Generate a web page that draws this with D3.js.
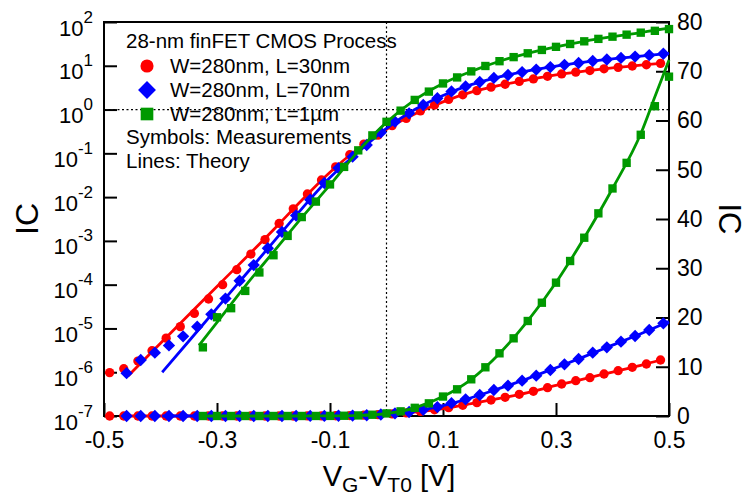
<!DOCTYPE html>
<html>
<head>
<meta charset="utf-8">
<script src="https://cdn.jsdelivr.net/npm/d3@7"></script>
<style>
body{margin:0;background:#fff}
text{font-family:Arial,"Liberation Sans",sans-serif;fill:#000}
</style>
</head>
<body>
<div id="chart"></div>
<script>
// measurements (symbols): VG-VT0 [V] and IC, same values go on the log and the linear axis
const redVg = [-0.49,-0.465,-0.44,-0.415,-0.39,-0.365,-0.34,-0.315,-0.29,-0.265,-0.24,-0.215,-0.19,-0.165,-0.14,-0.115,-0.09,-0.065,-0.04,-0.015,0.01,0.035,0.06,0.085,0.11,0.135,0.16,0.185,0.21,0.235,0.26,0.285,0.31,0.335,0.36,0.385,0.41,0.435,0.46,0.485]
const redIC = [9.8e-7,1.2e-6,1.8e-6,3.1e-6,6.0e-6,1.1e-5,2.2e-5,4.7e-5,1.0e-4,2.2e-4,5.0e-4,1.07e-3,2.5e-3,5.4e-3,0.0118,0.0246,0.049,0.093,0.162,0.26,0.43,0.63,0.93,1.27,1.7,2.17,2.71,3.25,3.79,4.40,5.01,5.75,6.50,7.17,7.78,8.53,9.20,9.89,10.56,11.37]

const blueVg = [-0.46,-0.435,-0.41,-0.385,-0.36,-0.335,-0.31,-0.285,-0.26,-0.235,-0.21,-0.185,-0.16,-0.135,-0.11,-0.085,-0.06,-0.035,-0.01,0.015,0.04,0.065,0.09,0.115,0.14,0.165,0.19,0.215,0.24,0.265,0.29,0.315,0.34,0.365,0.39,0.415,0.44,0.465,0.49]
const blueIC = [9.5e-7,1.9e-6,2.8e-6,4.1e-6,6.6e-6,1.1e-5,2.1e-5,4.8e-5,1.23e-4,2.8e-4,6.8e-4,1.6e-3,3.8e-3,8.7e-3,0.021,0.046,0.084,0.155,0.30,0.53,0.82,1.27,1.81,2.6,3.38,4.26,5.28,6.16,7.17,8.19,9.34,10.49,11.57,12.86,13.94,15.09,16.24,17.46,18.82]

const greenVg = [-0.325,-0.3,-0.275,-0.25,-0.225,-0.2,-0.175,-0.15,-0.125,-0.1,-0.075,-0.05,-0.025,0,0.025,0.05,0.075,0.1,0.125,0.15,0.175,0.2,0.225,0.25,0.275,0.3,0.325,0.35,0.375,0.4,0.425,0.45,0.475,0.5]
const greenIC = [3.7e-6,1.8e-5,2.9e-5,7.2e-5,1.9e-4,4.7e-4,1.3e-3,3.5e-3,7.9e-3,0.0195,0.049,0.117,0.257,0.525,0.944,1.66,2.57,3.95,5.42,7.45,9.89,12.73,15.77,19.29,23.0,27.07,31.47,36.2,41.15,46.2,51.4,57.1,62.9,68.9]

// theory (lines)
const redThVg = [-0.457,-0.4,-0.3,-0.2,-0.15,-0.1,-0.05,0,0.05,0.1,0.15,0.2,0.25,0.3,0.35,0.4,0.45,0.485]
const redThIC = [8.3e-7,4.6e-6,9.1e-5,1.8e-3,8.5e-3,0.037,0.129,0.355,0.79,1.5,2.49,3.57,4.76,6.2,7.54,8.93,10.3,11.37]
const blueThVg = [-0.397,-0.35,-0.3,-0.25,-0.2,-0.15,-0.1,-0.05,0,0.05,0.1,0.15,0.2,0.25,0.3,0.35,0.4,0.45,0.5]
const blueThIC = [1.0e-6,5.1e-6,2.9e-5,1.66e-4,9.5e-4,5.4e-3,0.028,0.107,0.37,1.0,2.1,3.7,5.6,7.6,9.8,12.05,14.4,16.7,19.2]
const greenThVg = [-0.332,-0.3,-0.25,-0.2,-0.15,-0.1,-0.05,0,0.05,0.1,0.15,0.2,0.25,0.3,0.35,0.4,0.45,0.475,0.5]
const greenThIC = [4.1e-6,1.38e-5,9.3e-5,5.6e-4,3.4e-3,0.019,0.112,0.51,1.66,3.95,7.45,12.7,19.3,27.1,36.2,46.2,57.3,64.8,72.3]

const legendTitle = "28-nm finFET CMOS Process"
const legendLabels = ["W=280nm, L=30nm","W=280nm, L=70nm","W=280nm, L=1\u00b5m"]
const legendNotes = ["Symbols: Measurements","Lines: Theory"]

const xTicks = [-0.5,-0.3,-0.1,0.1,0.3,0.5]
const logTicks = [1e-7,1e-6,1e-5,1e-4,1e-3,1e-2,1e-1,1e0,1e1,1e2]
const linTicks = [0,10,20,30,40,50,60,70,80]

const series = [
  {vg:redVg, ic:redIC, thVg:redThVg, thIC:redThIC, color:"#ff0000", shape:"circle"},
  {vg:blueVg, ic:blueIC, thVg:blueThVg, thIC:blueThIC, color:"#0000ff", shape:"diamond"},
  {vg:greenVg, ic:greenIC, thVg:greenThVg, thIC:greenThIC, color:"#009900", shape:"square"}
]

const W = 748, H = 502
const m = {left:104, right:669, top:22, bottom:416}

const x = d3.scaleLinear().domain([-0.5,0.5]).range([m.left,m.right])
const yLog = d3.scaleLog().domain([1e-7,1e2]).range([m.bottom,m.top])
const yLin = d3.scaleLinear().domain([0,80]).range([m.bottom,m.top])

const svg = d3.select("#chart").append("svg").attr("width",W).attr("height",H)

const symbolFor = (shape, big) => {
  if (shape=="circle") return {type:d3.symbolCircle, size: big ? 135 : 68, rot:0}
  if (shape=="diamond") return {type:d3.symbolSquare, size: big ? 160 : 76, rot:45}
  return {type:d3.symbolSquare, size: big ? 160 : 70, rot:0}
}

// dotted guides
svg.append("line")
  .attr("x1",x(0)).attr("x2",x(0)).attr("y1",m.top).attr("y2",m.bottom)
  .attr("stroke","#000").attr("stroke-width",1.2).attr("stroke-dasharray","2,2.5")
svg.append("line")
  .attr("x1",m.left).attr("x2",m.right).attr("y1",yLog(1)).attr("y2",yLog(1))
  .attr("stroke","#000").attr("stroke-width",1.2).attr("stroke-dasharray","2,2.5")

// axes
let xAxis = d3.axisBottom(x).tickValues(xTicks).tickSizeInner(-13).tickSizeOuter(0).tickFormat(d => d.toFixed(1))
let gx = svg.append("g").attr("transform",`translate(0,${m.bottom})`).call(xAxis)
gx.select(".domain").remove()
gx.selectAll(".tick line").attr("stroke-width",2)
gx.selectAll(".tick text").attr("y",16).attr("font-size",23).attr("font-family","Arial, Liberation Sans, sans-serif")

let yAxisL = d3.axisLeft(yLog).tickValues(logTicks).tickSizeInner(-13).tickSizeOuter(0).tickFormat("")
let gl = svg.append("g").attr("transform",`translate(${m.left},0)`).call(yAxisL)
gl.select(".domain").remove()
gl.selectAll(".tick line").attr("stroke-width",2)
gl.selectAll(".tick text").remove()
gl.selectAll(".tick").append("text")
  .attr("x",-11).attr("y",13).attr("text-anchor","end")
  .each(function(d){
    let t = d3.select(this)
    t.append("tspan").attr("font-size",22).text("10")
    t.append("tspan").attr("font-size",17).attr("dy",-13).text(Math.round(Math.log10(d)))
  })

let yAxisR = d3.axisRight(yLin).tickValues(linTicks).tickSizeInner(-13).tickSizeOuter(0)
let gr = svg.append("g").attr("transform",`translate(${m.right},0)`).call(yAxisR)
gr.select(".domain").remove()
gr.selectAll(".tick line").attr("stroke-width",2)
gr.selectAll(".tick text").attr("x",8).attr("font-size",23).attr("font-family","Arial, Liberation Sans, sans-serif")

// frame
svg.append("rect")
  .attr("x",m.left).attr("y",m.top).attr("width",m.right-m.left).attr("height",m.bottom-m.top)
  .attr("fill","none").attr("stroke","#000").attr("stroke-width",2)

// curves and symbols, each drawn on the log axis and on the linear axis
series.forEach(s => {
  let meas = s.vg.map((v,i) => ({v:v, ic:s.ic[i]}))
  let theo = s.thVg.map((v,i) => ({v:v, ic:s.thIC[i]}))
  ;[yLog, yLin].forEach(ys => {
    let line = d3.line().x(d => x(d.v)).y(d => ys(d.ic)).curve(d3.curveMonotoneX)
    svg.append("path").datum(theo).attr("d",line)
      .attr("fill","none").attr("stroke",s.color).attr("stroke-width",2.8)
  })
  let sym = symbolFor(s.shape,false)
  ;[yLog, yLin].forEach(ys => {
    svg.append("g").selectAll("path").data(meas).enter().append("path")
      .attr("d",d3.symbol(sym.type,sym.size))
      .attr("transform",d => `translate(${x(d.v)},${ys(d.ic)}) rotate(${sym.rot})`)
      .attr("fill",s.color)
  })
})

// legend
let lg = svg.append("g")
lg.append("text").attr("x",126).attr("y",48).attr("font-size",20.5).text(legendTitle)
legendLabels.forEach((lab,i) => {
  let cy = 66 + i*24
  let sym = symbolFor(series[i].shape,true)
  lg.append("path").attr("d",d3.symbol(sym.type,sym.size))
    .attr("transform",`translate(147,${cy}) rotate(${sym.rot})`)
    .attr("fill",series[i].color)
  lg.append("text").attr("x",170).attr("y",cy+7).attr("font-size",20.5).text(lab)
})
legendNotes.forEach((n,i) => {
  lg.append("text").attr("x",126).attr("y",144+i*24).attr("font-size",20.5).text(n)
})

// axis titles
svg.append("text").attr("transform","translate(38,219) rotate(-90)")
  .attr("text-anchor","middle").attr("font-size",32).text("IC")
svg.append("text").attr("transform","translate(719,219) rotate(90)")
  .attr("text-anchor","middle").attr("font-size",31).text("IC")
let xt = svg.append("text").attr("x",389).attr("y",486).attr("text-anchor","middle").attr("font-size",29)
xt.append("tspan").text("V")
xt.append("tspan").attr("font-size",21).attr("dy",6).text("G")
xt.append("tspan").attr("dy",-6).text("-V")
xt.append("tspan").attr("font-size",21).attr("dy",6).text("T0")
xt.append("tspan").attr("dy",-6).text(" [V]")
</script>
</body>
</html>
